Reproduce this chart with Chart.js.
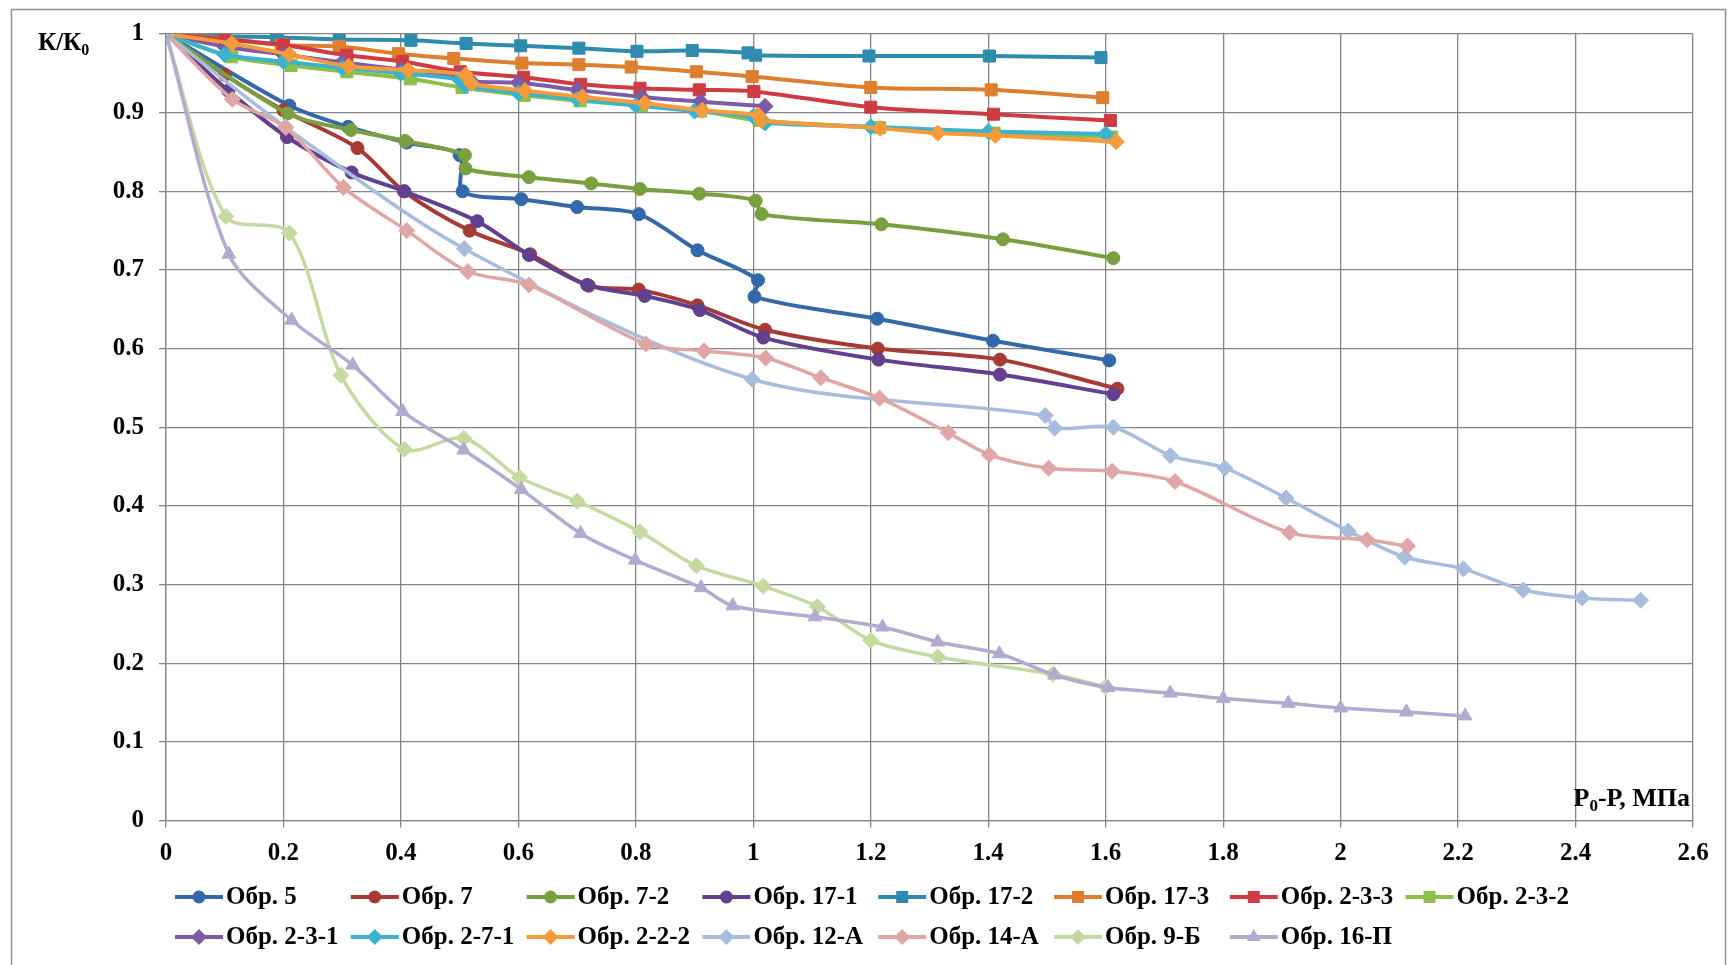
<!DOCTYPE html>
<html lang="ru">
<head>
<meta charset="utf-8">
<title>К/К0 – Р0-Р</title>
<script src="https://cdn.jsdelivr.net/npm/chart.js@4.4.1/dist/chart.umd.min.js"></script>
<style>
  html, body { margin: 0; padding: 0; background: #fff; }
  #obertka { position: relative; width: 1735px; height: 965px; }
</style>
</head>
<body>
<div id="obertka"><canvas id="grafik"></canvas></div>
<script>
// Точки кривых: [Р0-Р, МПа ; К/К0]
const obr5 = [[0, 1], [0.21, 0.909], [0.31, 0.882], [0.41, 0.862], [0.5, 0.846], [0.505, 0.8], [0.605, 0.79], [0.7, 0.78], [0.805, 0.771], [0.905, 0.725], [1.008, 0.687], [1.002, 0.666], [1.211, 0.638], [1.408, 0.61], [1.606, 0.585]];
const obr7 = [[0, 1], [0.1, 0.948], [0.2, 0.903], [0.326, 0.855], [0.405, 0.8], [0.517, 0.75], [0.62, 0.72], [0.72, 0.68], [0.805, 0.675], [0.905, 0.655], [1.02, 0.624], [1.212, 0.6], [1.42, 0.586], [1.62, 0.549]];
const obr7_2 = [[0, 1], [0.207, 0.899], [0.315, 0.878], [0.407, 0.864], [0.509, 0.846], [0.51, 0.829], [0.618, 0.818], [0.724, 0.81], [0.807, 0.803], [0.908, 0.797], [1.004, 0.788], [1.014, 0.771], [1.218, 0.758], [1.425, 0.739], [1.613, 0.715]];
const obr17_1 = [[0, 1], [0.106, 0.928], [0.206, 0.869], [0.316, 0.824], [0.406, 0.8], [0.53, 0.762], [0.618, 0.719], [0.717, 0.681], [0.815, 0.667], [0.909, 0.649], [1.017, 0.614], [1.213, 0.586], [1.42, 0.567], [1.613, 0.542]];
const obr17_2 = [[0, 1], [0.093, 0.997], [0.188, 0.996], [0.295, 0.993], [0.417, 0.992], [0.511, 0.988], [0.604, 0.985], [0.703, 0.982], [0.802, 0.978], [0.896, 0.979], [0.991, 0.976], [1.004, 0.973], [1.197, 0.972], [1.402, 0.972], [1.592, 0.97]];
const obr17_3 = [[0, 1], [0.1, 0.994], [0.196, 0.986], [0.295, 0.984], [0.396, 0.975], [0.49, 0.969], [0.606, 0.963], [0.703, 0.961], [0.792, 0.958], [0.903, 0.952], [0.998, 0.946], [1.2, 0.932], [1.405, 0.929], [1.595, 0.919]];
const obr2_3_3 = [[0, 1], [0.1, 0.993], [0.2, 0.986], [0.308, 0.973], [0.403, 0.965], [0.501, 0.952], [0.609, 0.945], [0.706, 0.936], [0.807, 0.931], [0.908, 0.929], [1.001, 0.927], [1.2, 0.907], [1.409, 0.898], [1.608, 0.89]];
const obr2_3_2 = [[0, 1], [0.112, 0.971], [0.213, 0.96], [0.308, 0.952], [0.416, 0.943], [0.504, 0.932], [0.61, 0.922], [0.705, 0.915], [0.81, 0.909], [0.91, 0.902], [1.01, 0.89], [1.215, 0.881], [1.41, 0.874], [1.61, 0.869]];
const obr2_3_1 = [[0, 1], [0.1, 0.984], [0.2, 0.974], [0.3, 0.964], [0.4, 0.955], [0.5, 0.947], [0.52, 0.94], [0.6, 0.938], [0.7, 0.929], [0.81, 0.92], [0.91, 0.914], [1.02, 0.908]];
const obr2_7_1 = [[0, 1], [0.1, 0.974], [0.2, 0.965], [0.3, 0.957], [0.4, 0.95], [0.5, 0.942], [0.51, 0.934], [0.6, 0.925], [0.7, 0.917], [0.8, 0.909], [0.9, 0.902], [1.0, 0.895], [1.02, 0.887], [1.2, 0.882], [1.4, 0.876], [1.6, 0.873]];
const obr2_2_2 = [[0, 1], [0.112, 0.988], [0.21, 0.974], [0.311, 0.959], [0.412, 0.954], [0.51, 0.948], [0.52, 0.937], [0.611, 0.928], [0.709, 0.92], [0.815, 0.912], [0.913, 0.903], [1.008, 0.897], [1.014, 0.89], [1.216, 0.88], [1.314, 0.874], [1.412, 0.871], [1.618, 0.863]];
const obr12_A = [[0, 1], [0.203, 0.882], [0.508, 0.727], [0.998, 0.561], [1.497, 0.515], [1.513, 0.499], [1.613, 0.5], [1.71, 0.464], [1.803, 0.448], [1.907, 0.41], [2.013, 0.368], [2.109, 0.335], [2.209, 0.32], [2.311, 0.293], [2.411, 0.283], [2.511, 0.28]];
const obr14_A = [[0, 1], [0.113, 0.917], [0.204, 0.881], [0.302, 0.805], [0.41, 0.75], [0.514, 0.698], [0.618, 0.681], [0.817, 0.606], [0.916, 0.597], [1.021, 0.588], [1.115, 0.563], [1.215, 0.537], [1.332, 0.493], [1.402, 0.465], [1.503, 0.448], [1.611, 0.444], [1.718, 0.431], [1.913, 0.366], [2.045, 0.357], [2.114, 0.349]];
const obr9_B = [[0, 1], [0.102, 0.768], [0.21, 0.747], [0.298, 0.566], [0.406, 0.472], [0.507, 0.486], [0.602, 0.436], [0.7, 0.406], [0.807, 0.367], [0.903, 0.324], [1.017, 0.298], [1.109, 0.272], [1.2, 0.229], [1.314, 0.208], [1.51, 0.186], [1.6, 0.17]];
const obr16_P = [[0, 1], [0.107, 0.72], [0.214, 0.636], [0.318, 0.579], [0.403, 0.52], [0.507, 0.471], [0.605, 0.421], [0.706, 0.365], [0.799, 0.331], [0.911, 0.296], [0.965, 0.273], [1.105, 0.259], [1.22, 0.246], [1.314, 0.227], [1.419, 0.212], [1.513, 0.185], [1.604, 0.169], [1.71, 0.162], [1.8, 0.155], [1.911, 0.149], [2.0, 0.143], [2.112, 0.138], [2.212, 0.133]];

const ryady = [obr5, obr7, obr7_2, obr17_1, obr17_2, obr17_3, obr2_3_3, obr2_3_2,
               obr2_3_1, obr2_7_1, obr2_2_2, obr12_A, obr14_A, obr9_B, obr16_P];
const nazvaniya = ['Обр. 5', 'Обр. 7', 'Обр. 7-2', 'Обр. 17-1', 'Обр. 17-2', 'Обр. 17-3', 'Обр. 2-3-3', 'Обр. 2-3-2',
                   'Обр. 2-3-1', 'Обр. 2-7-1', 'Обр. 2-2-2', 'Обр. 12-А', 'Обр. 14-А', 'Обр. 9-Б', 'Обр. 16-П'];

// Оформление кривых
const tsveta = ['#3369ab', '#a83a36', '#78a03f', '#60408f', '#2e8bae', '#dd7f2e', '#cf3b42', '#8cc04b',
                '#7d5ba6', '#3bb3cf', '#f79a3a', '#a8bddd', '#e0a6a5', '#c4daa0', '#b2abcf'];
const markery = ['circle', 'circle', 'circle', 'circle', 'rect', 'rect', 'rect', 'rect',
                 'rectRot', 'rectRot', 'rectRot', 'rectRot', 'rectRot', 'rectRot', 'triangle'];
const radiusMarkera = { circle: 6.5, rect: 8.5, rectRot: 8, triangle: 8 };

const shrift = "'Liberation Serif', 'Times New Roman', serif";
const tsvetSetki = '#858585';

// Подписи делений без лишних нулей: 1, 0.9, ... 0
const podpisDeleniya = (v) => String(Math.round(v * 10) / 10);

// Маркер для легенды (те же формы, что у Chart.js)
function narisovatMarker(ctx, vid, x, y, r) {
  ctx.beginPath();
  if (vid === 'circle') {
    ctx.arc(x, y, r, 0, Math.PI * 2);
  } else if (vid === 'rect') {
    const s = r * Math.SQRT1_2;
    ctx.rect(x - s, y - s, 2 * s, 2 * s);
  } else if (vid === 'rectRot') {
    ctx.moveTo(x - r, y); ctx.lineTo(x, y - r); ctx.lineTo(x + r, y); ctx.lineTo(x, y + r);
    ctx.closePath();
  } else {
    const h = r * 1.5, b = r * Math.sqrt(3) / 2;
    ctx.moveTo(x, y - r); ctx.lineTo(x + b, y + h - r); ctx.lineTo(x - b, y + h - r);
    ctx.closePath();
  }
  ctx.fill();
}

// Рамка, подписи осей и легенда в две строки
const oformlenie = {
  id: 'oformlenie',
  beforeDraw(chart) {
    const ctx = chart.ctx;
    ctx.save();
    ctx.fillStyle = '#fff';
    ctx.fillRect(0, 0, chart.width, chart.height);
    ctx.strokeStyle = '#8f8f8f';
    ctx.lineWidth = 1.5;
    ctx.strokeRect(11.5, 9.5, chart.width - 21, chart.height + 20);
    ctx.restore();
  },
  afterDraw(chart) {
    const ctx = chart.ctx;
    const area = chart.chartArea;
    ctx.save();
    ctx.fillStyle = '#000';
    ctx.textBaseline = 'alphabetic';

    // К/К0
    ctx.font = 'bold 25px ' + shrift;
    ctx.textAlign = 'left';
    ctx.fillText('К/К', 38, 50);
    const w1 = ctx.measureText('К/К').width;
    ctx.font = 'bold 16px ' + shrift;
    ctx.fillText('0', 38 + w1, 55);

    // Р0-Р, МПа
    ctx.font = 'bold 26px ' + shrift;
    const a = 'Р', b = '-Р, МПа';
    const wa = ctx.measureText(a).width, wb = ctx.measureText(b).width;
    ctx.font = 'bold 17px ' + shrift;
    const wsub = ctx.measureText('0').width;
    const x0 = area.right - 3 - wa - wsub - wb;
    const yb = area.bottom - 15;
    ctx.font = 'bold 26px ' + shrift;
    ctx.fillText(a, x0, yb);
    ctx.fillText(b, x0 + wa + wsub, yb);
    ctx.font = 'bold 17px ' + shrift;
    ctx.fillText('0', x0 + wa, yb + 5);

    // легенда
    ctx.font = 'bold 25px ' + shrift;
    ctx.textBaseline = 'middle';
    chart.data.datasets.forEach((ds, i) => {
      const kol = i % 8, str = Math.floor(i / 8);
      const x = 175 + kol * 175.8;
      const y = 897 + str * 40;
      ctx.strokeStyle = ds.borderColor;
      ctx.lineWidth = 4;
      ctx.beginPath();
      ctx.moveTo(x, y);
      ctx.lineTo(x + 48, y);
      ctx.stroke();
      ctx.fillStyle = ds.borderColor;
      narisovatMarker(ctx, ds.pointStyle, x + 24, y, ds.pointRadius);
      ctx.fillStyle = '#000';
      ctx.fillText(ds.label, x + 51, y + 1);
    });
    ctx.restore();
  }
};

function sozdatGrafik() {
  const ctx = document.getElementById('grafik').getContext('2d');

  const naboryDannyh = ryady.map((ryad, i) => ({
    label: nazvaniya[i],
    data: ryad.map(([x, y]) => ({ x, y })),
    borderColor: tsveta[i],
    backgroundColor: tsveta[i],
    pointBackgroundColor: tsveta[i],
    pointBorderColor: tsveta[i],
    borderWidth: i >= 11 ? 3.5 : 4,
    pointStyle: markery[i],
    pointRadius: radiusMarkera[markery[i]],
    pointBorderWidth: 1,
    tension: 0.3,
    fill: false,
    order: ryady.length - i   // более поздние ряды поверх
  }));

  new Chart(ctx, {
    type: 'line',
    data: { datasets: naboryDannyh },
    options: {
      responsive: true,
      maintainAspectRatio: false,
      animation: false,
      events: [],
      layout: { padding: { top: 34, right: 42, bottom: 94.5, left: 0 } },
      plugins: {
        legend: { display: false },
        tooltip: { enabled: false }
      },
      scales: {
        x: {
          type: 'linear',
          min: 0,
          max: 2.6,
          afterFit: (s) => { s.height = 50; },
          ticks: {
            stepSize: 0.2,
            autoSkip: false,
            maxRotation: 0,
            padding: 11,
            color: '#000',
            font: { family: shrift, size: 25, weight: 'bold' },
            callback: podpisDeleniya
          },
          grid: { color: tsvetSetki, lineWidth: 1.3, tickLength: 7 },
          border: { color: tsvetSetki, width: 1.3 }
        },
        y: {
          min: 0,
          max: 1,
          afterFit: (s) => { s.width = 166; },
          ticks: {
            stepSize: 0.1,
            padding: 15,
            color: '#000',
            font: { family: shrift, size: 25, weight: 'bold' },
            callback: podpisDeleniya
          },
          grid: { color: tsvetSetki, lineWidth: 1.3, tickLength: 7 },
          border: { color: tsvetSetki, width: 1.3 }
        }
      }
    },
    plugins: [oformlenie]
  });
}

document.addEventListener('DOMContentLoaded', sozdatGrafik);
</script>
</body>
</html>
